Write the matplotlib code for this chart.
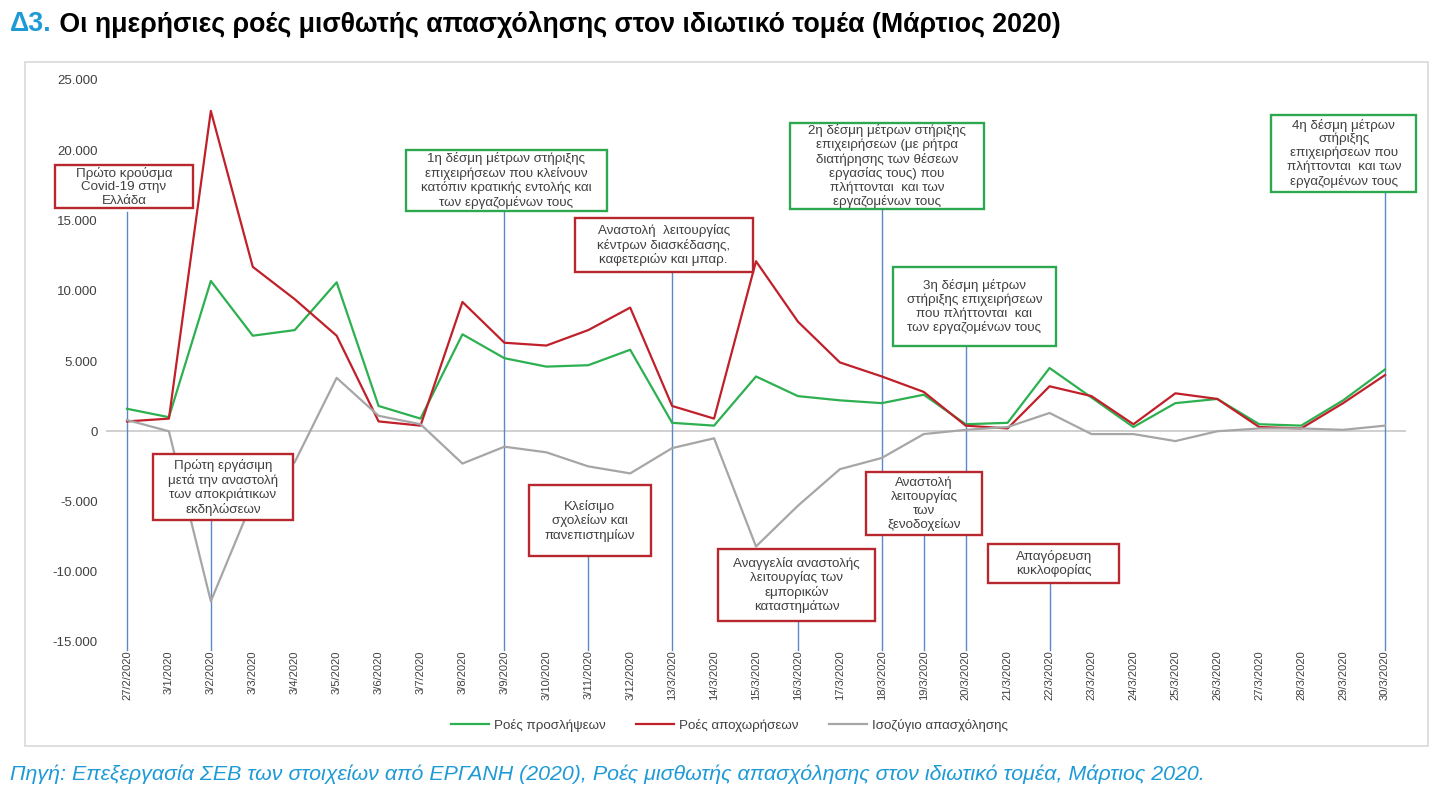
import matplotlib
matplotlib.use("Agg")
import matplotlib.pyplot as plt
from matplotlib.patches import Rectangle
from matplotlib.ticker import FuncFormatter

plt.rcParams['font.family'] = ['Liberation Sans', 'DejaVu Sans']

dates = ["27/2/2020", "3/1/2020", "3/2/2020", "3/3/2020", "3/4/2020", "3/5/2020",
         "3/6/2020", "3/7/2020", "3/8/2020", "3/9/2020", "3/10/2020", "3/11/2020",
         "3/12/2020", "13/3/2020", "14/3/2020", "15/3/2020", "16/3/2020", "17/3/2020",
         "18/3/2020", "19/3/2020", "20/3/2020", "21/3/2020", "22/3/2020", "23/3/2020",
         "24/3/2020", "25/3/2020", "26/3/2020", "27/3/2020", "28/3/2020", "29/3/2020",
         "30/3/2020"]
hires = [1600, 1000, 10700, 6800, 7200, 10600, 1800, 900, 6900, 5200, 4600, 4700,
         5800, 600, 400, 3900, 2500, 2200, 2000, 2600, 500, 600, 4500, 2400, 300,
         2000, 2300, 500, 400, 2200, 4400]
separations = [700, 900, 22800, 11700, 9400, 6800, 700, 400, 9200, 6300, 6100, 7200,
               8800, 1800, 900, 12100, 7800, 4900, 3900, 2800, 400, 200, 3200, 2500,
               500, 2700, 2300, 300, 200, 2000, 4000]
balance = [800, 0, -12100, -4900, -2200, 3800, 1100, 500, -2300, -1100, -1500, -2500,
           -3000, -1200, -500, -8200, -5300, -2700, -1900, -200, 100, 300, 1300, -200,
           -200, -700, 0, 200, 200, 100, 400]
series_names = ["Ροές προσλήψεων", "Ροές αποχωρήσεων", "Ισοζύγιο απασχόλησης"]
yticks = [-15000, -10000, -5000, 0, 5000, 10000, 15000, 20000, 25000]

# annotation boxes: text, date index of pointer line, box centre (x index, y value), size (px), colour
RED = "#B8272D"
GREEN = "#2EA84F"
notes = [
    ("Πρώτο κρούσμα\nCovid-19 στην\nΕλλάδα", 0, -0.07, 17400, 138, 43, RED, 15600),
    ("1η δέσμη μέτρων στήριξης\nεπιχειρήσεων που κλείνουν\nκατόπιν κρατικής εντολής και\nτων εργαζομένων τους",
     9, 9.05, 17830, 201, 61, GREEN, 15660),
    ("Αναστολή  λειτουργίας\nκέντρων διασκέδασης,\nκαφετεριών και μπαρ.", 13, 12.8, 13240, 178, 54, RED, 11300),
    ("2η δέσμη μέτρων στήριξης\nεπιχειρήσεων (με ρήτρα\nδιατήρησης των θέσεων\nεργασίας τους) που\nπλήττονται  και των\nεργαζομένων τους",
     18, 18.12, 18860, 194, 86, GREEN, 15800),
    ("3η δέσμη μέτρων\nστήριξης επιχειρήσεων\nπου πλήττονται  και\nτων εργαζομένων τους", 20, 20.21, 8860, 163, 79, GREEN, 6050),
    ("4η δέσμη μέτρων\nστήριξης\nεπιχειρήσεων που\nπλήττονται  και των\nεργαζομένων τους", 30, 29.02, 19790, 145, 77, GREEN, 17000),
    ("Πρώτη εργάσιμη\nμετά την αναστολή\nτων αποκριάτικων\nεκδηλώσεων", 2, 2.29, -3990, 140, 66, RED, -6330),
    ("Κλείσιμο\nσχολείων και\nπανεπιστημίων", 11, 11.04, -6370, 122, 71, RED, -8900),
    ("Αναγγελία αναστολής\nλειτουργίας των\nεμπορικών\nκαταστημάτων", 16, 15.97, -10960, 157, 72, RED, -13300),
    ("Αναστολή\nλειτουργίας\nτων\nξενοδοχείων", 19, 19.01, -5160, 116, 63, RED, -7400),
    ("Απαγόρευση\nκυκλοφορίας", 22, 22.1, -9430, 131, 39, RED, -10820),
]

W, H = 1447, 798
fig = plt.figure(figsize=(W / 100, H / 100), dpi=100)
fig.patch.set_facecolor("white")

left, right, top, bottom = 106, 1406, 80, 642
ax = fig.add_axes([left / W, 1 - bottom / H, (right - left) / W, (bottom - top) / H])

# outer frame
fig.patches.append(Rectangle((25 / W, 1 - 746 / H), (1428 - 25) / W, (746 - 62) / H,
                             transform=fig.transFigure, fill=False, edgecolor="#D9D9D9", lw=1.2))

c_hire, c_sep, c_bal = "#2DB050", "#C0202A", "#A6A6A6"
ax.plot(dates, hires, color=c_hire, lw=1.6, zorder=3, label=series_names[0])
ax.plot(dates, separations, color=c_sep, lw=1.6, zorder=3, label=series_names[1])
ax.plot(dates, balance, color=c_bal, lw=1.6, zorder=3, label=series_names[2])
ax.axhline(0, color="#C8C8C8", lw=1.2, zorder=1)

ax.set_xlim(-0.5, len(dates) - 0.5)
ax.set_ylim(-15000, 25000)
ax.set_yticks(yticks)
ax.yaxis.set_major_formatter(FuncFormatter(lambda v, p: f"{int(v):,}".replace(",", ".")))
ax.tick_params(axis="y", length=0, pad=6, labelsize=9.5, labelcolor="#404040")
ax.tick_params(axis="x", length=0, pad=6, labelsize=8, labelcolor="#404040", labelrotation=90)
for s in ax.spines.values():
    s.set_visible(False)

px_x = (right - left) / len(dates)          # px per category
px_y = (bottom - top) / 40000.0             # px per unit
for text, li, xc, yc, wpx, hpx, col, ybot in notes:
    w = wpx / px_x
    h = hpx / px_y
    ax.plot([li, li], [ybot, -15600], color="#5A88C8", lw=1.0, zorder=2, clip_on=False)
    ax.add_patch(Rectangle((xc - w / 2, yc - h / 2), w, h, facecolor="white",
                           edgecolor=col, lw=1.7, zorder=5, clip_on=False))
    ax.text(xc, yc, text, ha="center", va="center", fontsize=9.6, color="#404040",
            linespacing=1.15, zorder=6, clip_on=False)

fig.legend(loc="center", bbox_to_anchor=(0.5 + 6 / W, 1 - 725 / H), ncol=3, frameon=False,
           fontsize=9.6, handlelength=2.8, columnspacing=2.3, handletextpad=0.4,
           labelcolor="#404040")

t1 = fig.text(10 / W, 1 - 24 / H, "Δ3.", fontsize=19.3, fontweight="bold", color="#1E9AD6",
              va="center", ha="left")
ax.annotate(" Οι ημερήσιες ροές μισθωτής απασχόλησης στον ιδιωτικό τομέα (Μάρτιος 2020)",
            xy=(1, 0.5), xycoords=t1, va="center", ha="left", fontsize=19.3,
            fontweight="bold", color="black", annotation_clip=False)

fig.text(10 / W, 1 - 774 / H,
         "Πηγή: Επεξεργασία ΣΕΒ των στοιχείων από ΕΡΓΑΝΗ (2020), Ροές μισθωτής απασχόλησης στον ιδιωτικό τομέα, Μάρτιος 2020.",
         fontsize=15.4, style="italic", color="#1E9AD6", va="center", ha="left")

fig.savefig("out.png", dpi=100)
